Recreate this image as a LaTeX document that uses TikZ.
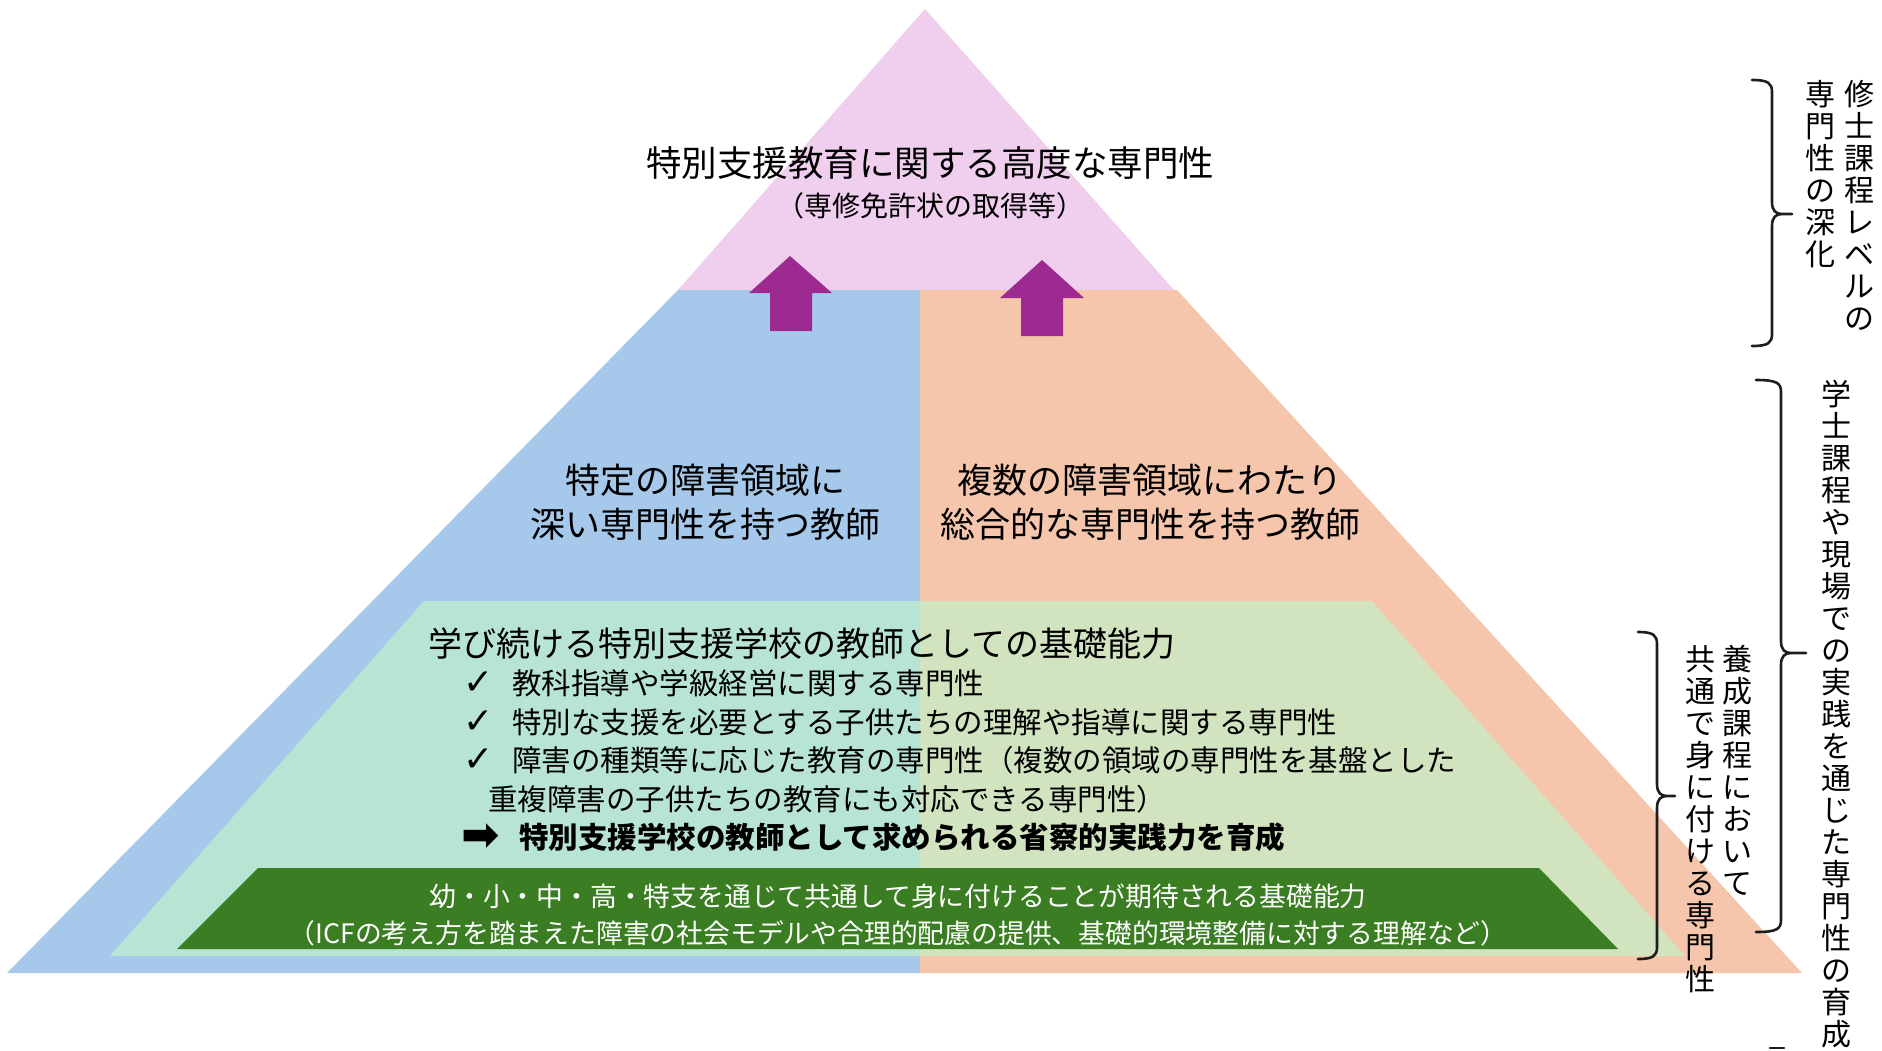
\documentclass[tikz,border=0pt]{standalone}
\usepackage{fontspec}
\setmainfont{Noto Sans CJK JP}
\newfontfamily\symfont{DejaVu Sans}
\definecolor{pinkC}{RGB}{240,206,238}
\definecolor{blueC}{RGB}{166,200,234}
\definecolor{orangeC}{RGB}{245,198,171}
\definecolor{mintC}{RGB}{194,242,202}
\definecolor{dgreenC}{RGB}{58,125,34}
\definecolor{purpC}{RGB}{157,42,145}
\definecolor{brkC}{RGB}{30,30,30}
\newcommand\mybrk[6]{%
  \draw[brk] (#1,#4) .. controls ({#2-4},#4) and (#2,{#4+3}) .. (#2,{#4+12})
    -- (#2,{#5-12}) .. controls (#2,{#5-3}) and ({#2+4},#5) .. ({#2+10},#5)
    -- (#3,#5) -- ({#2+10},#5)
    .. controls ({#2+4},#5) and (#2,{#5+3}) .. (#2,{#5+12})
    -- (#2,{#6-12}) .. controls (#2,{#6-3}) and ({#2-4},#6) .. (#1,#6);}
\begin{document}
\begin{tikzpicture}[x=1pt,y=-1pt,
  txt/.style={inner sep=0pt, text=black},
  item/.style={inner sep=0pt, anchor=west, font=\fontsize{29.5}{34}\selectfont},
  chk/.style={inner sep=0pt, font=\symfont\fontsize{36}{40}\selectfont},
  wtxt/.style={inner sep=0pt, text=white, font=\fontsize{26.8}{30}\selectfont},
  vtext/.style={inner sep=0pt, anchor=north, align=center, font=\fontsize{30}{32}\selectfont},
  brk/.style={draw=brkC, line width=2.6pt, line cap=round, line join=round},
  blockarrow/.style={fill=purpC, draw=none}]
\useasboundingbox (0,0) rectangle (1882,1050);
\fill[white] (0,0) rectangle (1882,1050);
% pyramid layers
\fill[pinkC] (925,9) -- (1174,290) -- (678,290) -- cycle;
\fill[blueC] (678,290) -- (920,290) -- (920,973) -- (7,973) -- cycle;
\fill[orangeC] (920,290) -- (1177,290) -- (1802,973) -- (920,973) -- cycle;
\fill[mintC, fill opacity=0.68] (424,601) -- (1372,601) -- (1685,956) -- (110,956) -- cycle;
\fill[dgreenC] (258,868) -- (1539,868) -- (1618,949) -- (177,949) -- cycle;
% block arrows
\fill[blockarrow] (790,256) -- (832,293) -- (812,293) -- (812,331) -- (770,331) -- (770,293) -- (749,293) -- cycle;
\fill[blockarrow] (1042,260) -- (1084,298) -- (1063,298) -- (1063,336) -- (1021,336) -- (1021,298) -- (1000,298) -- cycle;
% top texts
\node[txt, font=\fontsize{35.5}{40}\selectfont] (title) at (930,163) {特別支援教育に関する高度な専門性};
\node[txt, font=\fontsize{28}{32}\selectfont] (sub) at (930,206) {（専修免許状の取得等）};
\node[txt, align=center, font=\fontsize{35}{44}\selectfont] (bluetxt) at (705,502) {特定の障害領域に\\深い専門性を持つ教師};
\node[txt, align=center, font=\fontsize{35}{44}\selectfont] (orangetxt) at (1150,502) {複数の障害領域にわたり\\総合的な専門性を持つ教師};
% basic abilities
\node[txt, anchor=west, font=\fontsize{34}{40}\selectfont] (basic) at (428,644) {学び続ける特別支援学校の教師としての基礎能力};
\node[chk] (c1) at (479,683) {✓};
\node[item] (i1) at (512,683) {教科指導や学級経営に関する専門性};
\node[chk] (c2) at (479,722) {✓};
\node[item] (i2) at (512,722) {特別な支援を必要とする子供たちの理解や指導に関する専門性};
\node[chk] (c3) at (479,760) {✓};
\node[item] (i3) at (512,760) {障害の種類等に応じた教育の専門性（複数の領域の専門性を基盤とした};
\node[item] (i3b) at (488,799) {重複障害の子供たちの教育にも対応できる専門性）};
\node[chk, font=\symfont\bfseries\fontsize{46}{50}\selectfont] (a5) at (481,837) {➡};
\node[item, font=\bfseries\fontsize{29.5}{34}\selectfont] (i5) at (519,837) {特別支援学校の教師として求められる省察的実践力を育成};
% dark green texts
\node[wtxt] (g1) at (898,896) {幼・小・中・高・特支を通じて共通して身に付けることが期待される基礎能力};
\node[wtxt] (g2) at (898,933) {（ICFの考え方を踏まえた障害の社会モデルや合理的配慮の提供、基礎的環境整備に対する理解など）};
% brackets
\mybrk{1752}{1772}{1792}{80}{214}{346}
\mybrk{1756}{1781}{1806}{380}{653}{932}
\mybrk{1638}{1657}{1675}{632}{796}{959}
\draw[brk] (1770,1048) -- (1784,1048);
% vertical texts
\node[vtext] (v1) at (1859,80) {修\\士\\課\\程\\レ\\ベ\\ル\\の};
\node[vtext] (v2) at (1820,80) {専\\門\\性\\の\\深\\化};
\node[vtext] (v3) at (1836,380) {学\\士\\課\\程\\や\\現\\場\\で\\の\\実\\践\\を\\通\\じ\\た\\専\\門\\性\\の\\育\\成};
\node[vtext] (v4) at (1737,645) {養\\成\\課\\程\\に\\お\\い\\て};
\node[vtext] (v5) at (1700,645) {共\\通\\で\\身\\に\\付\\け\\る\\専\\門\\性};
\end{tikzpicture}
\end{document}
